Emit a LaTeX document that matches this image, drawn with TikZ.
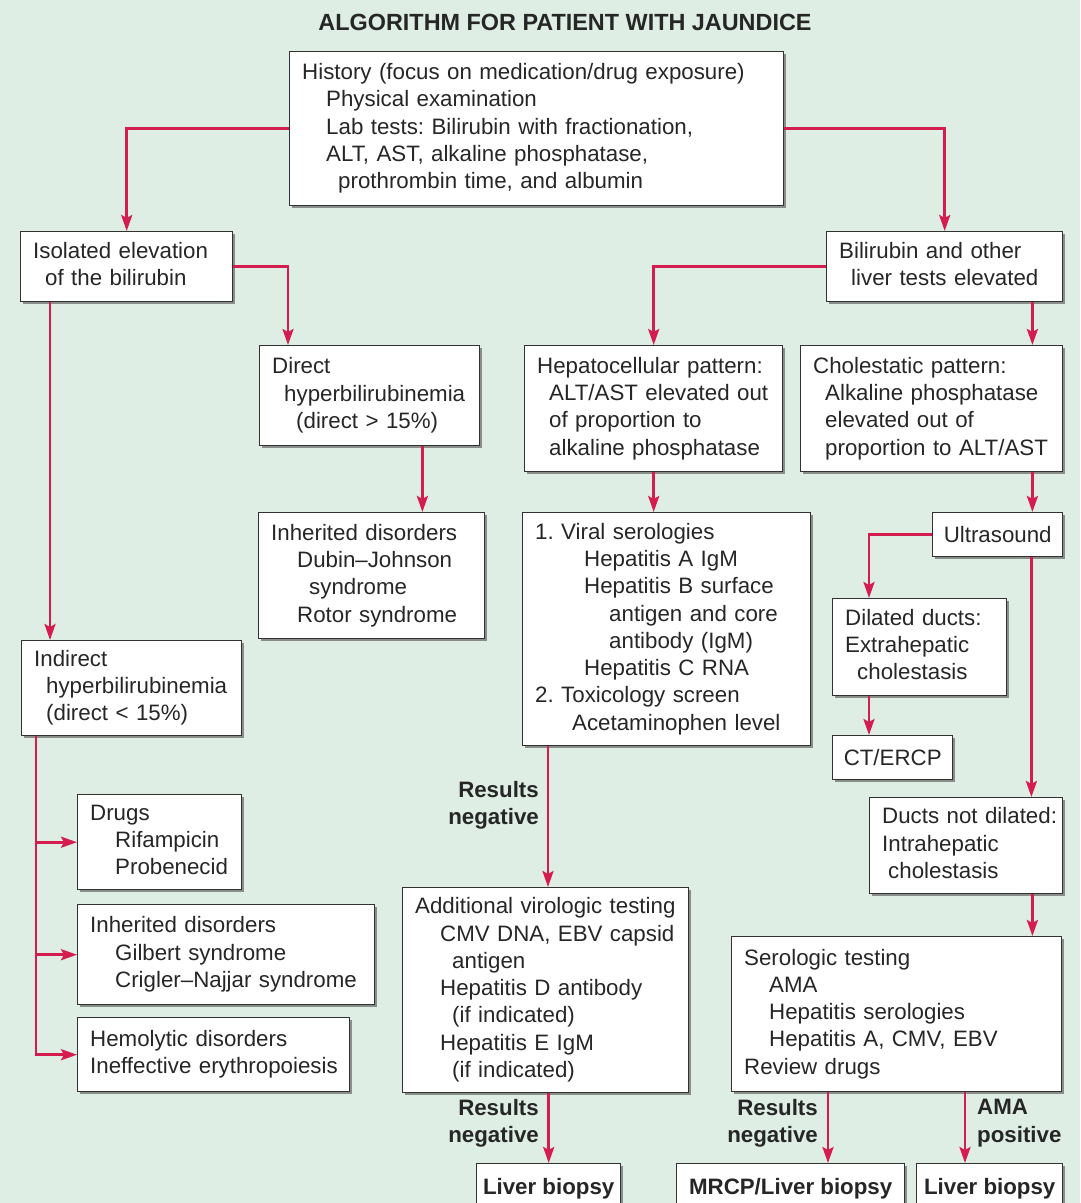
\documentclass[tikz,border=0pt]{standalone}
\usepackage{fontspec}
\setmainfont{Liberation Sans}
\usetikzlibrary{positioning,calc,shadows,arrows.meta}

\definecolor{mint}{RGB}{222,238,229}
\definecolor{jred}{RGB}{212,28,78}
\definecolor{ink}{RGB}{38,38,38}
\definecolor{boxline}{RGB}{50,50,50}

% one left-aligned block of lines
\newcommand{\blines}[1]{\begin{tabular}{@{}l@{}}#1\end{tabular}}

\tikzset{
	box/.style={draw=boxline, line width=1.4pt, fill=white, anchor=north west, align=left,
		inner xsep=12.5pt, inner ysep=0pt, text=ink,
		font=\fontsize{22.3}{27.3}\selectfont\frenchspacing,
		drop shadow={shadow xshift=2.5pt, shadow yshift=-2.5pt, fill=black!60, opacity=.7}},
	onebox/.style={box, align=center, inner xsep=4pt},
	endbox/.style={onebox, font=\fontsize{22.3}{27.3}\selectfont\bfseries},
	arr/.style={draw=jred, line width=2.7pt, -{Stealth[length=16pt,width=11pt,inset=3pt]}},
	lbl/.style={text=ink, font=\fontsize{22.3}{27.3}\selectfont\bfseries, inner sep=0pt},
}

\begin{document}
\begin{tikzpicture}[x=1pt,y=-1pt]
	\useasboundingbox (0,0) rectangle (1080,1203);
	\clip (0,0) rectangle (1080,1203);
	\fill[mint] (0,0) rectangle (1080,1203);
	
	\node[text=ink, font=\fontsize{23.4}{28}\selectfont\bfseries] (ttl) at (565,22) {ALGORITHM FOR PATIENT WITH JAUNDICE};
	
	\node[box, text width=469pt, minimum height=154pt] (hist) at (289,51) {\blines{History (focus on medication/drug exposure)\\
		\hspace*{24pt}Physical examination\\
		\hspace*{24pt}Lab tests: Bilirubin with fractionation,\\
		\hspace*{24pt}ALT, AST, alkaline phosphatase,\\
		\hspace*{36pt}prothrombin time, and albumin}};
	
	% left side
	\node[box, text width=187pt, minimum height=70pt] (iso) at (20,231) {\blines{Isolated elevation\\\hspace*{12pt}of the bilirubin}};
	\node[box, text width=195pt, minimum height=100pt] (direct) at (259,345) {\blines{Direct\\\hspace*{12pt}hyperbilirubinemia\\\hspace*{24pt}(direct > 15\%)}};
	\node[box, text width=201pt, minimum height=126pt] (inhA) at (258,512) {\blines{Inherited disorders\\
		\hspace*{26pt}Dubin\textendash Johnson\\
		\hspace*{38pt}syndrome\\
		\hspace*{26pt}Rotor syndrome}};
	\node[box, text width=195pt, minimum height=95pt] (indirect) at (21,640) {\blines{Indirect\\\hspace*{12pt}hyperbilirubinemia\\\hspace*{12pt}(direct < 15\%)}};
	\node[box, text width=139pt, minimum height=95pt] (drugs) at (77,794) {\blines{Drugs\\\hspace*{25pt}Rifampicin\\\hspace*{25pt}Probenecid}};
	\node[box, text width=272pt, minimum height=100pt] (inhB) at (77,904) {\blines{Inherited disorders\\\hspace*{25pt}Gilbert syndrome\\\hspace*{25pt}Crigler\textendash Najjar syndrome}};
	\node[box, text width=247pt, minimum height=74pt] (hemo) at (77,1017) {\blines{Hemolytic disorders\\Ineffective erythropoiesis}};
	
	% middle
	\node[box, text width=211pt, minimum height=70pt] (bil) at (826,231) {\blines{Bilirubin and other\\\hspace*{12pt}liver tests elevated}};
	\node[box, text width=233pt, minimum height=126pt] (hep) at (524,345) {\blines{Hepatocellular pattern:\\
		\hspace*{12pt}ALT/AST elevated out\\
		\hspace*{12pt}of proportion to\\
		\hspace*{12pt}alkaline phosphatase}};
	\node[box, text width=263pt, minimum height=233pt] (viral) at (522,512) {\blines{1. Viral serologies\\
		\hspace*{49pt}Hepatitis A IgM\\
		\hspace*{49pt}Hepatitis B surface\\
		\hspace*{74pt}antigen and core\\
		\hspace*{74pt}antibody (IgM)\\
		\hspace*{49pt}Hepatitis C RNA\\
		2. Toxicology screen\\
		\hspace*{37pt}Acetaminophen level}};
	\node[box, text width=261pt, minimum height=205pt] (addv) at (402,887) {\blines{Additional virologic testing\\
		\hspace*{25pt}CMV DNA, EBV capsid\\
		\hspace*{37pt}antigen\\
		\hspace*{25pt}Hepatitis D antibody\\
		\hspace*{37pt}(if indicated)\\
		\hspace*{25pt}Hepatitis E IgM\\
		\hspace*{37pt}(if indicated)}};
	\node[endbox, minimum width=144pt, minimum height=50pt] (liverA) at (476,1163) {Liver biopsy};
	
	% right side
	\node[box, text width=237pt, minimum height=126pt] (chol) at (800,345) {\blines{Cholestatic pattern:\\
		\hspace*{12pt}Alkaline phosphatase\\
		\hspace*{12pt}elevated out of\\
		\hspace*{12pt}proportion to ALT/AST}};
	\node[onebox, minimum width=130pt, minimum height=44pt] (ultra) at (932,512) {Ultrasound};
	\node[box, text width=149pt, minimum height=97pt] (dil) at (832,598) {\blines{Dilated ducts:\\Extrahepatic\\\hspace*{12pt}cholestasis}};
	\node[onebox, minimum width=120pt, minimum height=44pt] (ct) at (832,735) {CT/ERCP};
	\node[box, text width=168pt, minimum height=96pt] (ducts) at (869,797) {\blines{Ducts not dilated:\\Intrahepatic\\\hspace*{6pt}cholestasis}};
	\node[box, text width=305pt, minimum height=155pt] (sero) at (731,936) {\blines{Serologic testing\\
		\hspace*{25pt}AMA\\
		\hspace*{25pt}Hepatitis serologies\\
		\hspace*{25pt}Hepatitis A, CMV, EBV\\
		Review drugs}};
	\node[endbox, minimum width=228pt, minimum height=50pt] (mrcp) at (676,1163) {MRCP/Liver biopsy};
	\node[endbox, minimum width=146pt, minimum height=50pt] (liverB) at (916,1163) {Liver biopsy};
	
	% labels on the arrows
	\node[lbl, align=right, anchor=east] (rnegA) at (539,805) {Results\\negative};
	\node[lbl, align=right, anchor=east] (rnegB) at (539,1123) {Results\\negative};
	\node[lbl, align=right, anchor=east] (rnegC) at (818,1123) {Results\\negative};
	\node[lbl, align=left, anchor=west] (amapos) at (977,1123) {AMA\\positive};
	
	% connectors, left
	\draw[arr] (hist.west) -| (iso.north);
	\coordinate (dirN) at ($(direct.north west)+(29,0)$);
	\draw[arr] (iso.east) -| (dirN);
	\coordinate (dirS) at ($(direct.south east)+(-58,0)$);
	\draw[arr] (dirS) -- (dirS |- inhA.north);
	\coordinate (isoS) at ($(iso.south west)+(30,0)$);
	\draw[arr] (isoS) -- (isoS |- indirect.north);
	\coordinate (indS) at ($(indirect.south west)+(15,0)$);
	\draw[arr] (indS) |- (hemo.west);
	\draw[arr] (indS |- drugs.west) -- (drugs.west);
	\draw[arr] (indS |- inhB.west) -- (inhB.west);
	
	% connectors, middle
	\draw[arr] (hist.east) -| (bil.north);
	\draw[arr] (bil.west) -| (hep.north);
	\draw[arr] (hep.south) -- (hep.south |- viral.north);
	\coordinate (virS) at ($(viral.south west)+(26,0)$);
	\draw[arr] (virS) -- (virS |- addv.north);
	\draw[arr] (liverA.north |- addv.south) -- (liverA.north);
	
	% connectors, right
	\coordinate (bilS) at ($(bil.south east)+(-31,0)$);
	\draw[arr] (bilS) -- (bilS |- chol.north);
	\coordinate (cholS) at ($(chol.south east)+(-31,0)$);
	\draw[arr] (cholS) -- (cholS |- ultra.north);
	\coordinate (dilN) at ($(dil.north west)+(37,0)$);
	\draw[arr] (ultra.west) -| (dilN);
	\coordinate (dilS) at ($(dil.south west)+(37,0)$);
	\draw[arr] (dilS) -- (dilS |- ct.north);
	\coordinate (ultS) at ($(ultra.south east)+(-32,0)$);
	\draw[arr] (ultS) -- (ultS |- ducts.north);
	\coordinate (ducS) at ($(ducts.south east)+(-31,0)$);
	\draw[arr] (ducS) -- (ducS |- sero.north);
	\coordinate (serA) at ($(sero.south west)+(97,0)$);
	\draw[arr] (serA) -- (serA |- mrcp.north);
	\coordinate (serB) at ($(sero.south west)+(234,0)$);
	\draw[arr] (serB) -- (serB |- liverB.north);
\end{tikzpicture}
\end{document}
